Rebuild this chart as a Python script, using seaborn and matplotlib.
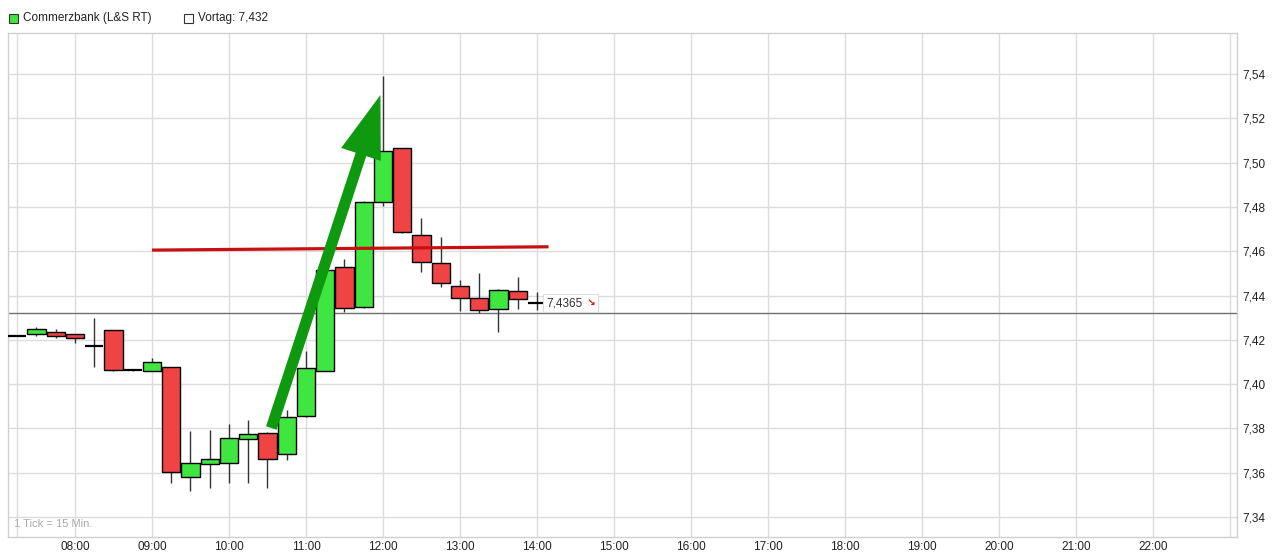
import matplotlib
matplotlib.use("Agg")
import matplotlib.pyplot as plt
import seaborn as sns
from matplotlib.patches import Rectangle
from matplotlib.offsetbox import TextArea, HPacker, AnnotationBbox

# ---- data ----
times = ["07:15", "07:30", "07:45", "08:00", "08:15", "08:30", "08:45",
         "09:00", "09:15", "09:30", "09:45", "10:00", "10:15", "10:30",
         "10:45", "11:00", "11:15", "11:30", "11:45", "12:00", "12:15",
         "12:30", "12:45", "13:00", "13:15", "13:30", "13:45", "14:00"]
opens = [7.4217, 7.4226, 7.4237, 7.4225, 7.4173, 7.4243, 7.4066,
         7.4059, 7.4076, 7.3580, 7.3639, 7.3642, 7.3751, 7.3778,
         7.3683, 7.3857, 7.4061, 7.4527, 7.4347, 7.4824, 7.5064,
         7.4672, 7.4545, 7.4441, 7.4387, 7.4337, 7.4419, 7.4365]
highs = [7.4217, 7.4256, 7.4247, 7.4225, 7.4297, 7.4243, 7.4066,
         7.4116, 7.4076, 7.3788, 7.3793, 7.3820, 7.3838, 7.3785,
         7.3883, 7.4151, 7.4520, 7.4565, 7.4827, 7.5390, 7.5064,
         7.4749, 7.4663, 7.4470, 7.4500, 7.4428, 7.4485, 7.4414]
lows = [7.4217, 7.4217, 7.4207, 7.4187, 7.4079, 7.4058, 7.4058,
        7.4059, 7.3552, 7.3519, 7.3532, 7.3552, 7.3555, 7.3532,
        7.3657, 7.3853, 7.4061, 7.4324, 7.4342, 7.4806, 7.4681,
        7.4508, 7.4440, 7.4330, 7.4322, 7.4237, 7.4339, 7.4335]
closes = [7.4217, 7.4247, 7.4217, 7.4207, 7.4173, 7.4062, 7.4066,
          7.4098, 7.3602, 7.3642, 7.3660, 7.3755, 7.3773, 7.3661,
          7.3850, 7.4071, 7.4515, 7.4342, 7.4824, 7.5054, 7.4688,
          7.4550, 7.4455, 7.4387, 7.4335, 7.4427, 7.4383, 7.4365]

vortag = 7.432
last_price_label = "7,4365"
hour_labels = ["08:00", "09:00", "10:00", "11:00", "12:00", "13:00", "14:00",
               "15:00", "16:00", "17:00", "18:00", "19:00", "20:00", "21:00", "22:00"]
price_ticks = [7.34, 7.36, 7.38, 7.40, 7.42, 7.44, 7.46, 7.48, 7.50, 7.52, 7.54]
# red resistance line (time, price)
red_line_t = ["09:00", "14:09"]
red_line_p = [7.4605, 7.4620]
# green trend arrow (time, price)
arrow_tail = ("10:33", 7.3802)
arrow_tip = ("11:58", 7.5305)


def to_h(s):
    hh, mm = s.split(":")
    return int(hh) + int(mm) / 60.0


sns.set_theme(style="white")
plt.rcParams["font.family"] = ["Liberation Sans", "DejaVu Sans"]

fig = plt.figure(figsize=(12.8, 5.56), dpi=100)
ax = fig.add_axes([8 / 1280, 1 - 537 / 556, (1237 - 8) / 1280, (537 - 33) / 556])

GREEN = "#3fe63f"
RED = "#f04444"
W = 0.235

t = [to_h(s) for s in times]
for ti, o, h, l, c in zip(t, opens, highs, lows, closes):
    if h > max(o, c) or l < min(o, c):
        ax.vlines(ti, l, h, color="#333333", lw=1, zorder=2)
    if abs(c - o) < 1e-9:
        ax.hlines(o, ti - W / 2, ti + W / 2, color="black", lw=1.6, zorder=3)
    else:
        ax.bar(ti, abs(c - o), bottom=min(o, c), width=W,
               color=GREEN if c > o else RED, edgecolor="black",
               linewidth=1, zorder=3)

# Vortag line
ax.axhline(vortag, color="#707070", lw=1, zorder=1.5)

# red line
ax.plot([to_h(s) for s in red_line_t], red_line_p, color="#c81010", lw=2.3,
        zorder=4, solid_capstyle="butt")

# green arrow
ax.annotate("", xy=(to_h(arrow_tip[0]), arrow_tip[1]),
            xytext=(to_h(arrow_tail[0]), arrow_tail[1]),
            arrowprops=dict(arrowstyle="simple,head_length=4.5,head_width=3.0,tail_width=0.8",
                            mutation_scale=10, color="#0e990e", lw=0,
                            shrinkA=0, shrinkB=0),
            zorder=5)

# last price label (boxed: price + red arrow)
ta1 = TextArea(last_price_label, textprops=dict(fontsize=8.5, color="#333333"))
ta2 = TextArea("↘", textprops=dict(fontsize=7.5, color="#dd1111",
                                   family="DejaVu Sans", fontweight="bold"))
pack = HPacker(children=[ta1, ta2], pad=0, sep=3, align="center")
ab = AnnotationBbox(pack, (t[-1], closes[-1]), xybox=(6.5, 0),
                    xycoords="data", boxcoords="offset points",
                    box_alignment=(0, 0.5), frameon=True, pad=0.2,
                    bboxprops=dict(boxstyle="square,pad=0.2", fc="white",
                                   ec="#dddddd", lw=0.8), zorder=6)
ax.add_artist(ab)

# axes limits & ticks
ax.set_xlim(7.1299, 23.0909)
ax.set_ylim(7.331, 7.5585)
ax.set_xticks([to_h(s) for s in hour_labels])
ax.set_xticklabels(hour_labels)
ax.set_xticks([7.25, 23.0], minor=True)
ax.set_yticks(price_ticks)
ax.set_yticklabels([f"{v:.2f}".replace(".", ",") for v in price_ticks])
ax.yaxis.tick_right()
ax.tick_params(axis="both", which="both", length=0, labelsize=8.5, colors="#222222")
ax.tick_params(axis="x", pad=3)
ax.tick_params(axis="y", pad=4)
ax.grid(True, which="major", color="#dcdcdc", lw=1)
ax.grid(True, which="minor", axis="x", color="#dcdcdc", lw=1)
ax.set_axisbelow(True)
for sp in ax.spines.values():
    sp.set_color("#d0d0d0")
    sp.set_linewidth(1)

ax.text(0.005, 0.025, "1 Tick = 15 Min.", transform=ax.transAxes,
        fontsize=8, color="#aaaaaa", ha="left", va="center")

# legend at top
fig.patches.append(Rectangle((9 / 1280, 1 - 23 / 556), 9 / 1280, 9 / 556,
                             transform=fig.transFigure, fc=GREEN, ec="#333333", lw=0.8))
fig.text(23 / 1280, 1 - 18.5 / 556, "Commerzbank (L&S RT)", fontsize=8.5,
         color="#222222", va="center", ha="left")
fig.patches.append(Rectangle((184 / 1280, 1 - 23 / 556), 9 / 1280, 9 / 556,
                             transform=fig.transFigure, fc="white", ec="#333333", lw=0.8))
fig.text(198 / 1280, 1 - 18.5 / 556, "Vortag: 7,432", fontsize=8.5,
         color="#222222", va="center", ha="left")

fig.savefig("out.png", dpi=100, facecolor="white")
